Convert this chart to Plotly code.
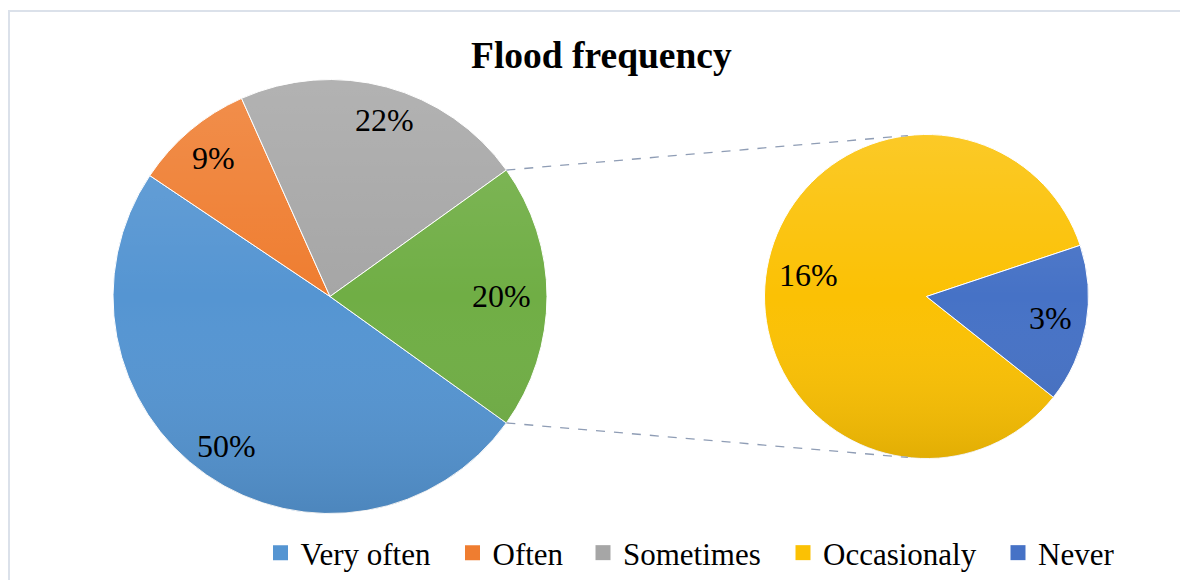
import math
import base64
import plotly.graph_objects as go

# ---- data -------------------------------------------------------------
main_labels = ["Very often", "Often", "Sometimes", "Other"]
main_values = [50, 9, 22, 20]
sub_labels = ["Occasionaly", "Never"]
sub_values = [16, 3]
legend_labels = ["Very often", "Often", "Sometimes", "Occasionaly", "Never"]

# ---- styling ----------------------------------------------------------
W, H = 1180, 580
FONT = "Liberation Serif"
main_colors = ["#5595d2", "#ef7d30", "#a6a6a6", "#70ae45"]
sub_colors = ["#fbc104", "#4672c6"]
legend_colors = ["#5595d2", "#ef7d30", "#a6a6a6", "#fbc104", "#4672c6"]
legend_square_x = [280.5, 472.5, 603, 803, 1018]  # centre of each legend key

MAIN_C, MAIN_R = (330.0, 296.5), 217.0
SUB_C, SUB_R = (926.5, 296.5), 162.0
main_label_r = [0.84, 0.83, 0.85, 0.79]
main_label_turn = [0, 0, 2, 0]  # small angular nudges (degrees)
sub_label_r = [0.74, 0.78]
sub_label_turn = [0, 0]


def px(x):
    return x / W


def py(y):
    return 1 - y / H


def domain(c, r):
    return dict(x=[px(c[0] - r), px(c[0] + r)], y=[py(c[1] + r), py(c[1] - r)])


def point(c, r, ang):
    """Pixel position at a clockwise angle (degrees) from 12 o'clock."""
    a = math.radians(ang)
    return c[0] + r * math.sin(a), c[1] - r * math.cos(a)


# the broken-out slice (last of the main pie) is centred at 3 o'clock
main_total = sum(main_values)
main_rot = 90 + 0.5 * 360 * main_values[-1] / main_total
# the small slice of the second pie sits just below 3 o'clock
sub_total = sum(sub_values)
never_mid = 100.0
sub_rot = never_mid + 0.5 * 360 * sub_values[-1] / sub_total

fig = go.Figure()
fig.add_trace(go.Pie(
    labels=main_labels, values=main_values, sort=False, direction="clockwise",
    rotation=main_rot, domain=domain(MAIN_C, MAIN_R), textinfo="none",
    marker=dict(colors=main_colors, line=dict(color="white", width=1)),
    showlegend=False, hoverinfo="label+percent",
))
fig.add_trace(go.Pie(
    labels=sub_labels, values=sub_values, sort=False, direction="clockwise",
    rotation=sub_rot, domain=domain(SUB_C, SUB_R), textinfo="none",
    marker=dict(colors=sub_colors, line=dict(color="white", width=1)),
    showlegend=False, hoverinfo="label+value",
))

# legend entries, one small legend per key so each can be placed freely
legend_layouts = {}
for i, (lab, col, sx) in enumerate(zip(legend_labels, legend_colors, legend_square_x)):
    key = "legend" if i == 0 else f"legend{i + 1}"
    fig.add_trace(go.Scatter(
        x=[None], y=[None], mode="markers", name=lab, legend=key,
        marker=dict(symbol="square", size=15, color=col),
    ))
    legend_layouts[key] = dict(
        orientation="h", x=px(sx - 20), xanchor="left", y=py(553), yanchor="middle",
        font=dict(family=FONT, size=31, color="black"),
        bgcolor="rgba(0,0,0,0)", itemclick=False, itemdoubleclick=False,
    )

annotations = []


def slice_labels(values, total, rot, c, r, fracs, turns):
    start = rot
    for v, f, t in zip(values, fracs, turns):
        span = 360 * v / total
        mid = start + span / 2 + t
        x, y = point(c, r * f, mid)
        annotations.append(dict(
            x=px(x), y=py(y - 0.5), xref="paper", yref="paper", text=f"{v}%",
            showarrow=False, xanchor="center", yanchor="middle",
            font=dict(family=FONT, size=32, color="black"),
        ))
        start += span


slice_labels(main_values, main_total, main_rot, MAIN_C, MAIN_R, main_label_r, main_label_turn)
slice_labels(sub_values, sub_total, sub_rot, SUB_C, SUB_R, sub_label_r, sub_label_turn)

annotations.append(dict(
    x=px(601.5), y=py(55), xref="paper", yref="paper",
    text="<b>Flood frequency</b>", showarrow=False,
    xanchor="center", yanchor="middle",
    font=dict(family=FONT, size=37.5, color="black"),
))

# connector lines from the broken-out slice to the second pie
half = 0.5 * 360 * main_values[-1] / main_total
p_top = point(MAIN_C, MAIN_R, 90 - half)
p_bot = point(MAIN_C, MAIN_R, 90 + half)
q_top = point(SUB_C, SUB_R, -6.6)
q_bot = point(SUB_C, SUB_R, 180 + 6.6)
shapes = []
for a, b in [(p_top, q_top), (p_bot, q_bot)]:
    shapes.append(dict(
        type="line", xref="paper", yref="paper",
        x0=px(a[0]), y0=py(a[1]), x1=px(b[0]), y1=py(b[1]),
        line=dict(color="#8f9db5", width=1.3, dash="dash"),
    ))
# chart frame
shapes.append(dict(
    type="rect", xref="paper", yref="paper",
    x0=px(9), y0=py(11), x1=px(W + 20), y1=py(H + 20),
    line=dict(color="#dbe1ea", width=2), fillcolor="rgba(0,0,0,0)", layer="below",
))

# soft top-to-bottom shading laid over each pie
shade_svg = (
    '<svg xmlns="http://www.w3.org/2000/svg" width="200" height="200" viewBox="0 0 200 200">'
    '<defs><linearGradient id="g" x1="0" y1="0" x2="0" y2="1">'
    '<stop offset="0" stop-color="#ffffff" stop-opacity="0.14"/>'
    '<stop offset="0.5" stop-color="#ffffff" stop-opacity="0"/>'
    '<stop offset="1" stop-color="#000000" stop-opacity="0.10"/>'
    '</linearGradient></defs>'
    '<circle cx="100" cy="100" r="100" fill="url(#g)"/></svg>'
)
shade_uri = "data:image/svg+xml;base64," + base64.b64encode(shade_svg.encode()).decode()
images = []
for c, r in [(MAIN_C, MAIN_R), (SUB_C, SUB_R)]:
    images.append(dict(
        source=shade_uri, xref="paper", yref="paper",
        x=px(c[0] - r), y=py(c[1] - r), sizex=px(2 * r), sizey=2 * r / H,
        xanchor="left", yanchor="top", sizing="stretch", layer="above",
    ))

fig.update_layout(
    width=W, height=H,
    margin=dict(l=0, r=0, t=0, b=0),
    paper_bgcolor="white", plot_bgcolor="white",
    xaxis=dict(visible=False), yaxis=dict(visible=False),
    showlegend=True,
    annotations=annotations, shapes=shapes, images=images,
    **legend_layouts,
)

fig.write_html("out.html")
